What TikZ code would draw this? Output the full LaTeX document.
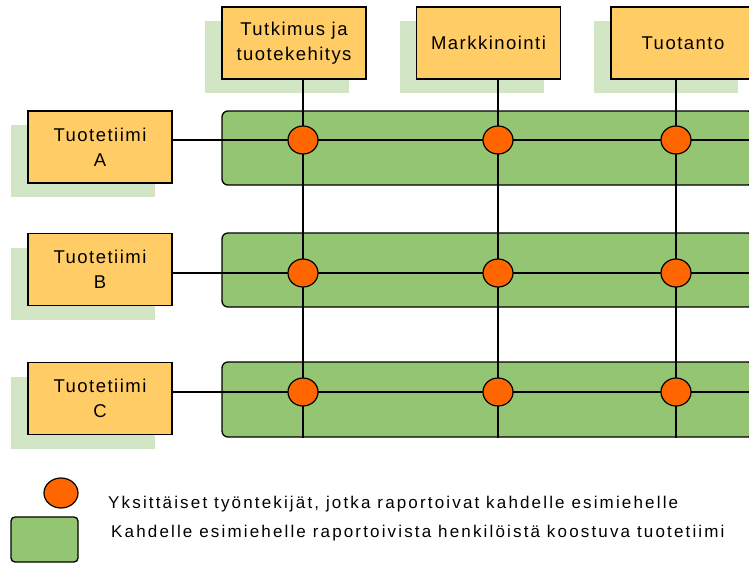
\documentclass[tikz,border=0pt]{standalone}
\usepackage{fontspec}
\setmainfont{Liberation Sans}
\newfontfamily\boxfont{Liberation Sans}[LetterSpace=8]
\newfontfamily\legfont{Liberation Sans}[LetterSpace=12.7]
\usetikzlibrary{shapes.geometric,shadows}
\definecolor{boxfill}{RGB}{255,204,102}
\definecolor{bandfill}{RGB}{147,197,114}
\definecolor{dotfill}{RGB}{255,102,0}
\definecolor{shadowfill}{RGB}{210,230,198}
\tikzset{
  unitbox/.style={rectangle, draw=black, fill=boxfill, line width=1.3pt,
    minimum width=144pt, minimum height=72pt, inner sep=0pt, align=center,
    font=\boxfont\fontsize{18.5}{25}\selectfont,
    drop shadow={shadow xshift=-17pt, shadow yshift=-14pt, fill=shadowfill, opacity=1}},
  band/.style={rectangle, draw=black, fill=bandfill, line width=1.3pt,
    rounded corners=6pt, minimum width=532pt, inner sep=0pt},
  person/.style={ellipse, draw=black, fill=dotfill, line width=1.2pt,
    minimum width=30pt, minimum height=28pt, inner sep=0pt},
  link/.style={draw=black, line width=1.3pt},
  legendtext/.style={anchor=base west, inner sep=0pt, font=\legfont\fontsize{17}{20}\selectfont}
}
\begin{document}
\begin{tikzpicture}[x=1pt,y=-1pt]
\useasboundingbox (0,0) rectangle (749,563);
\clip (0,0) rectangle (749,563);
% top function boxes
\node[unitbox] (t1) at (294,43) {Tutkimus ja\\tuotekehitys};
\node[unitbox] (t2) at (488.5,43) {Markkinointi};
\node[unitbox] (t3) at (683,43) {Tuotanto};
% team boxes
\node[unitbox] (tA) at (100,147) {Tuotetiimi\\A};
\node[unitbox] (tB) at (100,269.5) {Tuotetiimi\\B};
\node[unitbox] (tC) at (100,398.5) {Tuotetiimi\\C};
% bands
\node[band, minimum height=74pt] (bA) at (488,148) {};
\node[band, minimum height=74pt] (bB) at (488,270) {};
\node[band, minimum height=75pt] (bC) at (488,399.5) {};
% right edge
\coordinate (R) at (749,0);
% crossing points
\coordinate (pA1) at (303,140);
\coordinate (pA2) at (498,140);
\coordinate (pA3) at (676,140);
\coordinate (pB1) at (303,273);
\coordinate (pB2) at (498,273);
\coordinate (pB3) at (676,273);
\coordinate (pC1) at (303,392);
\coordinate (pC2) at (498,392);
\coordinate (pC3) at (676,392);
% horizontal lines
\draw[link] (tA.east |- pA1) -- (R |- pA1);
\draw[link] (tB.east |- pB1) -- (R |- pB1);
\draw[link] (tC.east |- pC1) -- (R |- pC1);
% vertical lines
\draw[link] (pA1 |- t1.south) -- (pA1 |- bC.south);
\draw[link] (pA2 |- t2.south) -- (pA2 |- bC.south);
\draw[link] (pA3 |- t3.south) -- (pA3 |- bC.south);
% persons
\foreach \p in {pA1,pA2,pA3,pB1,pB2,pB3,pC1,pC2,pC3}
  \node[person] (d\p) at (\p) {};
% legend
\node[person, minimum width=34pt, minimum height=30pt] (lp) at (61,493) {};
\node[rectangle, draw=black, fill=bandfill, line width=1.3pt, rounded corners=4pt,
  minimum width=67pt, minimum height=45pt, inner sep=0pt] (lb) at (44.5,539.5) {};
\node[legendtext] (lt1) at (108,508) {Yksittäiset työntekijät, jotka raportoivat kahdelle esimiehelle};
\node[legendtext] (lt2) at (111,537) {Kahdelle esimiehelle raportoivista henkilöistä koostuva tuotetiimi};
\end{tikzpicture}
\end{document}
